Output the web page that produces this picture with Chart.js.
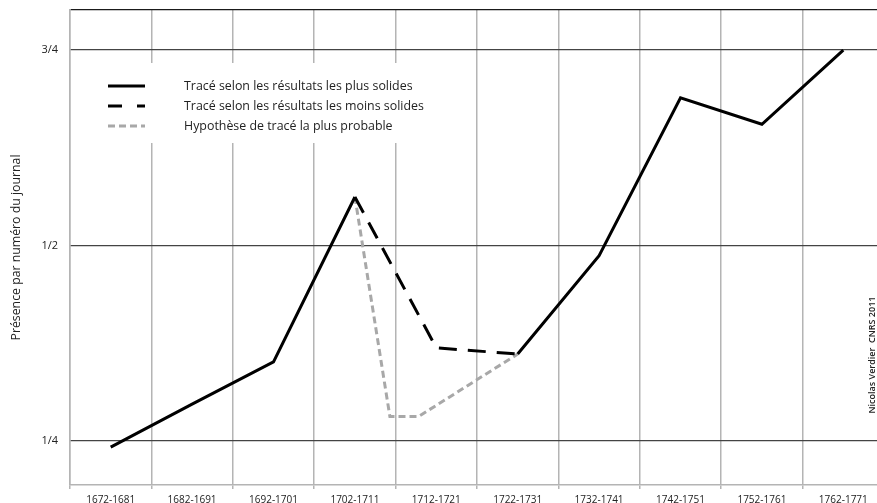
<!DOCTYPE html>
<html>
<head>
<meta charset="utf-8">
<script src="https://cdn.jsdelivr.net/npm/chart.js@4.4.1/dist/chart.umd.min.js"></script>
<style>
  html, body { margin: 0; padding: 0; overflow: hidden; background: #fff; }
  #wrap { position: relative; width: 886px; height: 503px; }
</style>
</head>
<body>
<div id="wrap"><canvas id="c"></canvas></div>
<script>
// ---- data ----
const periods = ["1672-1681","1682-1691","1692-1701","1702-1711","1712-1721","1722-1731","1732-1741","1742-1751","1752-1761","1762-1771"];
const solidValues  = [0.242, 0.297, 0.351, 0.562, null, 0.361, 0.487, 0.689, 0.655, 0.750];
const dashedValues = [null, null, null, 0.562, 0.369, 0.361, null, null, null, null];
const grayX = [3, 3.43, 3.78, 5];
const grayY = [0.562, 0.281, 0.281, 0.361];
const yTickValues = [0.25, 0.5, 0.75];
const yTickLabels = ["1/4", "1/2", "3/4"];
const legendLabels = [
  "Tracé selon les résultats les plus solides",
  "Tracé selon les résultats les moins solides",
  "Hypothèse de tracé la plus probable"
];
const yTitle = "Présence par numéro du journal";
const credit = "Nicolas Verdier  CNRS 2011";

const Y_MIN = 0.1935, Y_MAX = 0.8012;
const FONT = "'Open Sans', 'Noto Sans', sans-serif";

const grayPoints = grayX.map((x, i) => ({ x: x, y: grayY[i] }));

const legendPlugin = {
  id: 'legendBox',
  beforeDatasetsDraw(chart) {
    const ctx = chart.ctx;
    ctx.save();
    ctx.fillStyle = '#fff';
    ctx.fillRect(71, 63, 370, 80);
    const rows = [86, 106, 126];
    const ds = chart.data.datasets;
    rows.forEach((y, i) => {
      const d = ds[i];
      ctx.beginPath();
      ctx.strokeStyle = d.borderColor;
      ctx.lineWidth = d.borderWidth;
      ctx.setLineDash(i === 1 ? [14, 15] : (d.borderDash || []));
      ctx.moveTo(108, y);
      ctx.lineTo(145, y);
      ctx.stroke();
      ctx.setLineDash([]);
      ctx.fillStyle = '#222';
      ctx.font = "12.4px " + FONT;
      ctx.textBaseline = 'middle';
      ctx.textAlign = 'left';
      ctx.fillText(legendLabels[i], 184, y);
    });
    ctx.restore();
  },
  afterDraw(chart) {
    const ctx = chart.ctx;
    ctx.save();
    ctx.translate(872, 355);
    ctx.rotate(-Math.PI / 2);
    ctx.fillStyle = '#222';
    ctx.font = "600 9px " + FONT;
    ctx.textAlign = 'center';
    ctx.textBaseline = 'middle';
    ctx.fillText(credit, 0, 0);
    ctx.restore();
  }
};

new Chart(document.getElementById('c'), {
  type: 'line',
  data: {
    labels: periods,
    datasets: [
      {
        label: legendLabels[0],
        data: solidValues,
        borderColor: '#000',
        borderWidth: 3,
        pointRadius: 0,
        spanGaps: false,
        tension: 0,
        borderCapStyle: 'butt',
        borderJoinStyle: 'miter'
      },
      {
        label: legendLabels[1],
        data: dashedValues,
        borderColor: '#000',
        borderWidth: 3,
        borderDash: [18, 11],
        pointRadius: 0,
        tension: 0
      },
      {
        label: legendLabels[2],
        data: grayPoints,
        xAxisID: 'x2',
        borderColor: '#a8a8a8',
        borderWidth: 3,
        borderDash: [7, 4],
        pointRadius: 0,
        tension: 0
      }
    ]
  },
  options: {
    responsive: true,
    maintainAspectRatio: false,
    animation: false,
    layout: { padding: { top: 10, right: 2, left: 0, bottom: 0 } },
    plugins: { legend: { display: false }, tooltip: { enabled: false } },
    scales: {
      x: {
        type: 'category',
        offset: true,
        afterFit(scale) { scale.height = 18; },
        grid: { offset: true, color: '#b4b4b4', lineWidth: 1.5, tickLength: 4, drawTicks: true },
        border: { display: true, color: '#b4b4b4', width: 1.5 },
        ticks: { color: '#222', font: { family: FONT, size: 10 }, padding: 5, maxRotation: 0, autoSkip: false }
      },
      x2: {
        type: 'linear',
        display: false,
        min: -0.5,
        max: 9.5
      },
      y: {
        min: Y_MIN,
        max: Y_MAX,
        afterBuildTicks(scale) {
          scale.ticks = yTickValues.map(v => ({ value: v })).concat([{ value: Y_MAX }]);
        },
        afterFit(scale) { scale.width = 70; scale.paddingTop = 0; scale.paddingBottom = 0; },
        grid: {
          drawTicks: false,
          color: (c) => (c.tick && c.tick.value === Y_MAX) ? '#1a1a1a' : '#444',
          lineWidth: 1.3
        },
        border: { display: true, color: '#b4b4b4', width: 1.5 },
        ticks: {
          padding: 12,
          color: '#222',
          font: { family: FONT, size: 11 },
          callback: (v) => { const i = yTickValues.indexOf(v); return i >= 0 ? yTickLabels[i] : ''; }
        },
        title: {
          display: true,
          text: yTitle,
          color: '#222',
          font: { family: FONT, size: 12.3 },
          padding: { top: 9, bottom: 4 }
        }
      }
    }
  },
  plugins: [legendPlugin]
});
</script>
</body>
</html>
